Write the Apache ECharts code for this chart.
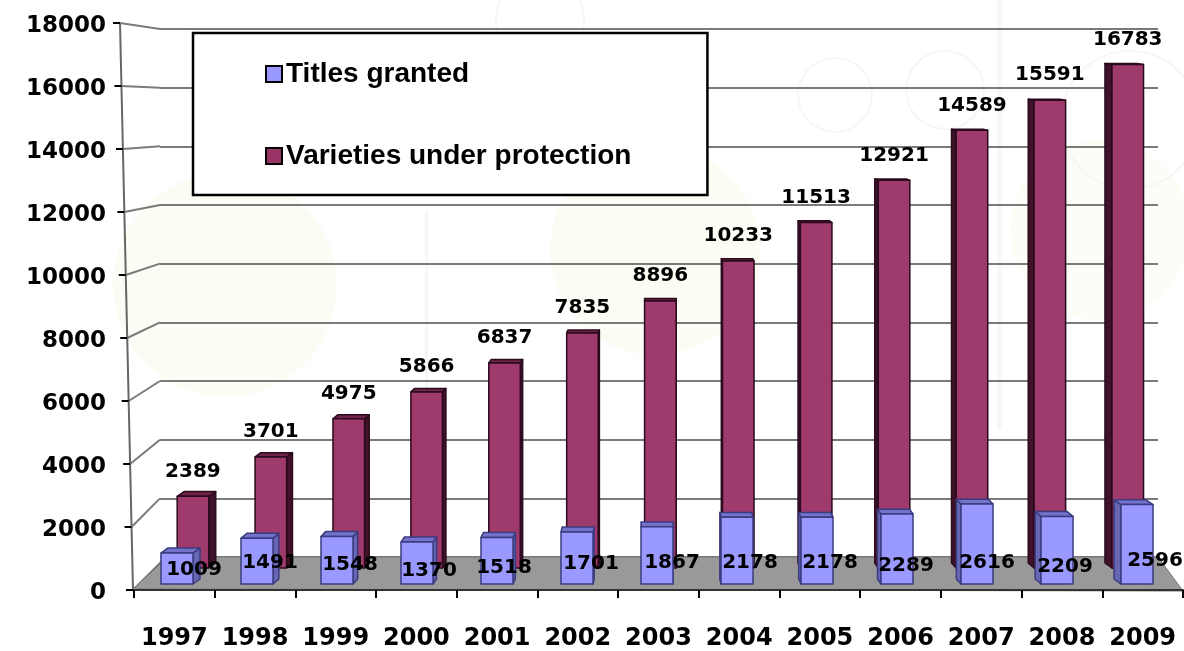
<!DOCTYPE html>
<html><head><meta charset="utf-8">
<style>html,body{margin:0;padding:0;background:#fff}#c{width:1184px;height:651px}</style>
<script src="https://cdn.jsdelivr.net/npm/echarts@6/dist/echarts.min.js"></script>
</head><body><div id="c"></div>
<script>
const years = ['1997','1998','1999','2000','2001','2002','2003','2004','2005','2006','2007','2008','2009'];
const titlesGranted = [1009,1491,1548,1370,1518,1701,1867,2178,2178,2289,2616,2209,2596];
const varietiesUnderProtection = [2389,3701,4975,5866,6837,7835,8896,10233,11513,12921,14589,15591,16783];
const yTicks = [0,2000,4000,6000,8000,10000,12000,14000,16000,18000];

// layout only (not data)
const frontLabelDx = [17,13,13,12,7,14,15,13,13,9,10,8,18];
const frontLabelRise = [14,21,19,13,16,20,21,21,21,18,21,17,23];
const backLabelRise = 25;
const WALL = {left:160,top:29,width:998,height:528};
const LABEL_FONT = 'bold 20px "DejaVu Sans"';
const AX_FONT = {fontFamily:'"DejaVu Sans"',fontWeight:'bold',fontSize:24,color:'#000'};
const MAX = 18000;

const chart = echarts.init(document.getElementById('c'), null, {renderer:'canvas'});

function wallY(v){ return WALL.top + WALL.height * (1 - v / MAX); }

function barRenderer(colors, widthRatio, depthX, labelFn){
  return function(params, api){
    const i = api.value(0), v = api.value(1);
    const top = api.coord([i, v]), base = api.coord([i, 0]);
    const w = api.size([1,0])[0] * widthRatio;
    const xl = top[0] - w/2, xr = top[0] + w/2;
    const t = i / (years.length - 1);
    const dx = depthX * (1 - 2*t);
    const dy = Math.max(1, 5.5 * (1 - v / 17000));
    const edge = {stroke:colors.edge, lineWidth:1.5, lineJoin:'round'};
    const sx = dx >= 0 ? xr : xl;
    const kids = [
      {type:'polygon', shape:{points:[[sx,top[1]],[sx+dx,top[1]-dy],[sx+dx,base[1]-5],[sx,base[1]]]},
       style:Object.assign({fill:colors.side},edge)},
      {type:'polygon', shape:{points:[[xl,top[1]],[xr,top[1]],[xr+dx,top[1]-dy],[xl+dx,top[1]-dy]]},
       style:Object.assign({fill:colors.top},edge)},
      {type:'rect', shape:{x:xl,y:top[1],width:w,height:base[1]-top[1]},
       style:Object.assign({fill:colors.front},edge)}
    ];
    const lab = labelFn(i, v, top, base);
    kids.push({type:'text', z2:50, style:{text:String(v), x:lab[0], y:lab[1], align:'center', verticalAlign:'middle', font:LABEL_FONT, fill:'#000'}});
    return {type:'group', children:kids};
  };
}

const option = {
  animation:false,
  backgroundColor:'#fff',
  graphic:{elements:[
    {type:'circle',silent:true,z:-10,shape:{cx:225,cy:285,r:112},style:{fill:'#fbfcf3'}},
    {type:'circle',silent:true,z:-10,shape:{cx:655,cy:250,r:105},style:{fill:'#fbfcf3'}},
    {type:'circle',silent:true,z:-10,shape:{cx:1100,cy:230,r:90},style:{fill:'#fcfdf6'}},
    {type:'ring',silent:true,z:-10,shape:{cx:1130,cy:120,r:70,r0:68},style:{fill:'#f6f7f2'}},
    {type:'ring',silent:true,z:-10,shape:{cx:835,cy:95,r:38,r0:36},style:{fill:'#f6f7f2'}},
    {type:'ring',silent:true,z:-10,shape:{cx:945,cy:90,r:40,r0:38},style:{fill:'#f6f7f2'}},
    {type:'ring',silent:true,z:-10,shape:{cx:540,cy:20,r:45,r0:43},style:{fill:'#f6f7f2'}},
    {type:'rect',silent:true,z:-10,shape:{x:425,y:210,width:3,height:230},style:{fill:'#f6f7f3'}},
    {type:'rect',silent:true,z:-10,shape:{x:997,y:0,width:5,height:430},style:{fill:'#f7f7f7'}}
  ]},
  legend:{
    show:true, orient:'vertical', left:193, top:33,
    padding:[27,76,25,72], itemGap:54,
    backgroundColor:'#fff', borderColor:'#000', borderWidth:2.5, borderRadius:0,
    icon:'rect', itemWidth:16, itemHeight:16,
    itemStyle:{borderColor:'#000',borderWidth:2},
    textStyle:{fontFamily:'"Liberation Sans"',fontWeight:'bold',fontSize:28,color:'#000',padding:[0,0,0,-1]},
    data:['Titles granted','Varieties under protection'],
    z:20
  },
  grid:[
    {left:134,top:23,width:1049,height:567},
    {left:WALL.left,top:WALL.top,width:WALL.width,height:WALL.height},
    {left:154,top:28,width:1012.7,height:540},
    {left:137,top:33,width:1040,height:551}
  ],
  xAxis:[
    {gridIndex:0,type:'category',data:years,
     axisLine:{lineStyle:{color:'#333',width:2}},
     axisTick:{show:true,length:8,lineStyle:{color:'#000',width:2}},
     axisLabel:{margin:37,interval:0,...AX_FONT},z:1},
    {gridIndex:1,type:'category',data:years,show:false},
    {gridIndex:2,type:'category',data:years,show:false},
    {gridIndex:3,type:'category',data:years,show:false}
  ],
  yAxis:[
    {gridIndex:0,type:'value',min:0,max:MAX,interval:2000,
     axisLine:{show:false},axisTick:{show:false},splitLine:{show:false},
     axisLabel:{margin:28,formatter:v=>'{a|'+v+'}',
       rich:{a:{fontFamily:'"DejaVu Sans"',fontWeight:'bold',fontSize:23,color:'#000',padding:[7,0,0,0]}}}},
    {gridIndex:1,type:'value',min:0,max:MAX,interval:2000,
     axisLine:{show:false},axisTick:{show:false},axisLabel:{show:false},
     splitLine:{show:true,lineStyle:{color:'#7a7a7a',width:2}}},
    {gridIndex:2,type:'value',min:0,max:MAX,show:false,splitLine:{show:false}},
    {gridIndex:3,type:'value',min:0,max:MAX,show:false,splitLine:{show:false}}
  ],
  series:[
    {type:'custom',name:'frame',xAxisIndex:0,yAxisIndex:0,z:1,silent:true,
     data:yTicks.map(v=>[0,v]),
     renderItem:function(params,api){
       const v = api.value(1);
       const y = api.coord([0,v])[1];
       const y0 = api.coord([0,0])[1], yT = api.coord([0,MAX])[1];
       const xf = 133 - 13 * v / MAX;
       const kids = [
         {type:'line',shape:{x1:xf,y1:y,x2:WALL.left+(v===0?6:0),y2:wallY(v)},style:{stroke:'#7a7a7a',lineWidth:2}},
         {type:'line',shape:{x1:xf-7,y1:y,x2:xf,y2:y},style:{stroke:'#000',lineWidth:2}}
       ];
       if(v===0){
         kids.unshift({type:'line',shape:{x1:133,y1:y0,x2:120,y2:yT},style:{stroke:'#666',lineWidth:2}});
         kids.push({type:'polygon',shape:{points:[[133,589],[168,557],[1158,557],[1183,591]]},style:{fill:'#999999',stroke:'#777',lineWidth:1}});
       }
       return {type:'group',children:kids};
     }},
    {type:'custom',name:'Varieties under protection',xAxisIndex:2,yAxisIndex:2,z:3,silent:true,
     itemStyle:{color:'#993366'},
     data:varietiesUnderProtection.map((v,i)=>[i,v]),
     renderItem:barRenderer({front:'#9e3a6c',top:'#6e2449',side:'#40122a',edge:'#2a0a1c'},0.405,7,
       (i,v,top)=>[top[0],top[1]-backLabelRise])},
    {type:'custom',name:'Titles granted',xAxisIndex:3,yAxisIndex:3,z:4,silent:true,
     itemStyle:{color:'#9999ff'},
     data:titlesGranted.map((v,i)=>[i,v]),
     renderItem:barRenderer({front:'#9999ff',top:'#7373cc',side:'#6666b3',edge:'#3b3b80'},0.4,7,
       (i,v,top,base)=>[top[0]+frontLabelDx[i],base[1]-frontLabelRise[i]])}
  ]
};
chart.setOption(option);
</script></body></html>
